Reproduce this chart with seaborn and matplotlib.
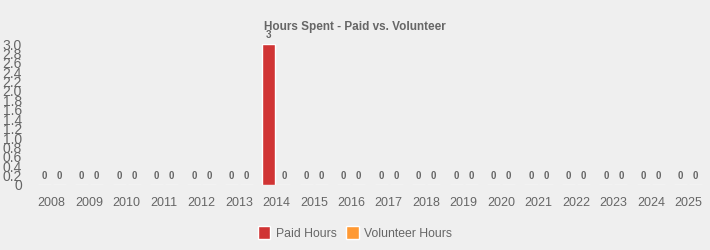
import matplotlib
matplotlib.use("Agg")
import matplotlib.pyplot as plt
import seaborn as sns
import pandas as pd
import numpy as np

years = [str(y) for y in range(2008, 2026)]
paid_hours = [0, 0, 0, 0, 0, 0, 3, 0, 0, 0, 0, 0, 0, 0, 0, 0, 0, 0]
volunteer_hours = [0] * 18
series_names = ["Paid Hours", "Volunteer Hours"]
y_ticks = [round(0.2 * i, 1) for i in range(16)]
y_tick_labels = ["0"] + [f"{v:.1f}" for v in y_ticks[1:]]

df = pd.DataFrame({
    "Year": years * 2,
    "Hours": paid_hours + volunteer_hours,
    "Series": [series_names[0]] * len(years) + [series_names[1]] * len(years),
})

sns.set_theme(style="white")
plt.rcParams['font.family'] = ['Liberation Sans', 'DejaVu Sans']
bg = "#efefef"
grey = "#666666"
colors = {"Paid Hours": "#d03434", "Volunteer Hours": "#ff9933"}

fig = plt.figure(figsize=(7.1, 2.5), dpi=100, facecolor=bg)
ax = fig.add_axes([33 / 710, 1 - 185 / 250, (707 - 33) / 710, (185 - 44) / 250])
ax.set_facecolor(bg)

sns.barplot(data=df, x="Year", y="Hours", hue="Series", palette=colors,
            width=0.8, gap=0.12, ax=ax, legend=True, saturation=1)

ax.set_ylim(0, 3.0)
ax.set_xlim(-0.5, len(years) - 0.5)
ax.set_yticks(y_ticks)
ax.set_yticklabels(y_tick_labels, color=grey, fontsize=10)
ax.tick_params(axis="y", length=0, pad=8)
ax.tick_params(axis="x", length=0, pad=9, labelsize=9, labelcolor=grey)
ax.set_xlabel("")
ax.set_ylabel("")
for s in ax.spines.values():
    s.set_visible(False)

for cont in ax.containers:
    for bar, v in zip(cont, cont.datavalues):
        ax.annotate(f"{v:g}", (bar.get_x() + bar.get_width() / 2, bar.get_height()),
                    xytext=(0, 6.6), textcoords="offset points", ha="center",
                    va="center", fontsize=7, fontweight="bold", color=grey)

handles, labels = ax.get_legend_handles_labels()
ax.get_legend().remove()
leg = fig.legend(handles, labels, loc="center", bbox_to_anchor=(0.5, 1 - 233 / 250),
                 ncol=2, frameon=False, fontsize=8.8, handlelength=1.0,
                 handleheight=1.3, handletextpad=0.45, columnspacing=0.8)
for t in leg.get_texts():
    t.set_color(grey)

fig.text(0.5, 1 - 27 / 250, "Hours Spent - Paid vs. Volunteer", ha="center",
         va="center", fontsize=8.5, fontweight="bold", color=grey)

fig.savefig("out.png", dpi=100, facecolor=bg)
